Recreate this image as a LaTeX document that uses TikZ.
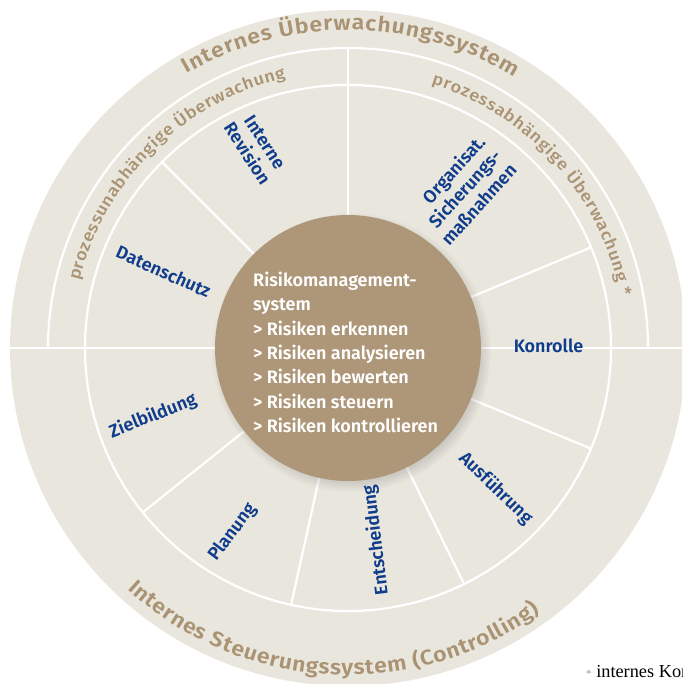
\documentclass[tikz,border=0pt]{standalone}
\usepackage{fontspec}
\usetikzlibrary{decorations.text,shadows}
\newfontfamily\labelfont{Fira Sans}[BoldFont={Fira Sans SemiBold}]
\newfontfamily\ringfont{Fira Sans SemiBold}[FakeStretch=1.1]
\newfontfamily\mediumfont{Fira Sans Medium}[FakeStretch=1.1]
\newfontfamily\notefont{Liberation Serif}

\definecolor{ringbeige}{RGB}{233,230,221}
\definecolor{coretan}{RGB}{174,151,120}
\definecolor{labeltan}{RGB}{170,147,115}
\definecolor{navyblue}{RGB}{16,60,140}

\newcommand\bigringfont{\ringfont\fontsize{21}{21}\selectfont}
\newcommand\smallringfont{\mediumfont\fontsize{16.5}{16.5}\selectfont}

\tikzset{
  spoke/.style={white, line width=2.2pt},
  sector label/.style={font=\labelfont\bfseries\fontsize{18}{21}\selectfont,
    text=navyblue, inner sep=0pt, align=center},
  ring text/.style={decorate, decoration={text along path,
    text align=fit to path, text color=labeltan, #1}},
}

\begin{document}
\begin{tikzpicture}[x=1pt,y=1pt]
\useasboundingbox (-348,-336) rectangle (334,348);
\begin{scope}
\clip (-348,-336) rectangle (334,348);

% rings
\fill[ringbeige] (0,0) circle (338);
\draw[spoke] (0,0) circle (263);
\draw[spoke] (300,0) arc[start angle=0, end angle=180, radius=300];
\draw[spoke] (-338,0) -- (338,0);
\draw[spoke] (0,0) -- (90:300);
\foreach \a in {135,22.5,-22.5,-63.8,-102.5,-141.3}
  \draw[spoke] (0,0) -- (\a:263);

% core
\node[circle, fill=coretan, minimum size=266pt, inner sep=0pt,
  circular drop shadow={shadow xshift=3pt, shadow yshift=-4pt,
    shadow scale=1.05, opacity=.5}] (core) at (0,0) {};
\node[anchor=north west, inner sep=0pt, align=left, text=white,
  font=\labelfont\bfseries\fontsize{18}{24.3}\selectfont] (risk) at (-95,76)
  {Risikomanagement-\\system\\> Risiken erkennen\\> Risiken analysieren\\
   > Risiken bewerten\\> Risiken steuern\\> Risiken kontrollieren};

% sectors
\node[sector label, rotate=-57] (revision) at (-92,200) {Interne\\Revision};
\node[sector label, rotate=48, anchor=east, align=right] (sicherung) at (149,196)
  {Organisat.\\Sicherungs-\\maßnahmen};
\node[sector label, rotate=-24] (datenschutz) at (-184.5,76.5) {Datenschutz};
\node[sector label, anchor=base] (kontrolle) at (200.5,-4.7) {Konrolle};
\node[sector label, rotate=22] (ziel) at (-195,-68) {Zielbildung};
\node[sector label, rotate=53] (planung) at (-115.5,-184.5) {Planung};
\node[sector label, rotate=97] (entscheidung) at (28,-192) {Entscheidung};
\node[sector label, rotate=-44] (ausfuehrung) at (147.5,-140.5) {Ausführung};

% ring captions
\path[ring text={text={|\bigringfont|Internes Überwachungssystem}}]
  (120.5:318) arc[start angle=120.5, end angle=58.4, radius=318];
\path[ring text={text={|\smallringfont|prozessunabhängige Überwachung}}]
  (166:277) arc[start angle=166, end angle=103, radius=277];
\path[ring text={text={|\smallringfont|prozessabhängige Überwachung *}}]
  (72.5:277) arc[start angle=72.5, end angle=10.8, radius=277];
\path[ring text={text={|\bigringfont|Internes Steuerungssystem (Controlling)}}]
  (227.5:327) arc[start angle=227.5, end angle=306, radius=327];

% footnote
\node[anchor=base west, inner sep=0pt, font=\notefont\fontsize{18.3}{18.3}\selectfont] (note)
  at (238,-329) {\textcolor{labeltan}{\fontsize{11}{11}\selectfont*} internes Kontrollsystem};
\end{scope}
\end{tikzpicture}
\end{document}
